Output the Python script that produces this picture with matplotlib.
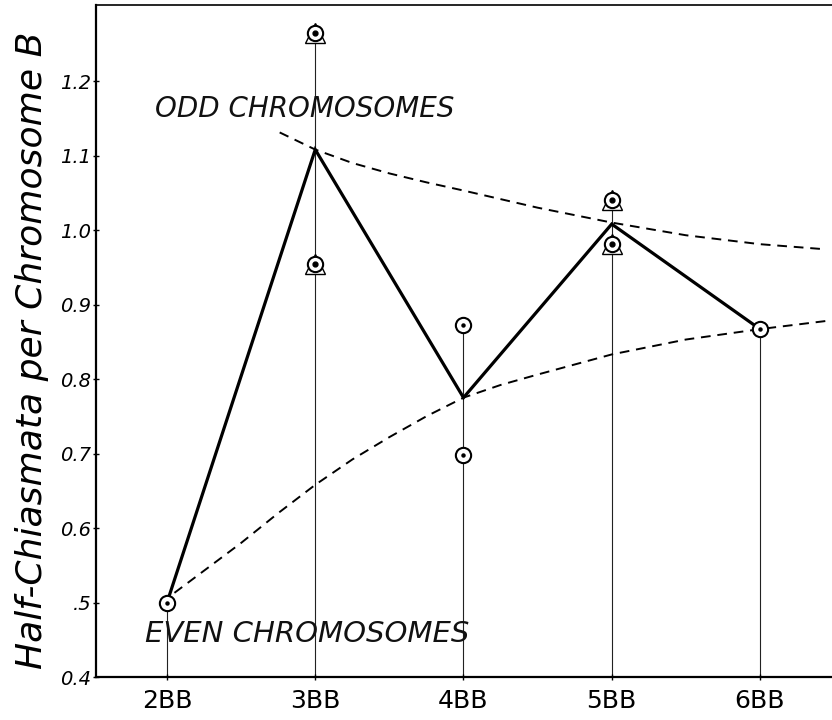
import matplotlib
matplotlib.use("Agg")
import matplotlib.pyplot as plt

# B chromosome classes
categories = ['2BB', '3BB', '4BB', '5BB', '6BB']
b_count = [2, 3, 4, 5, 6]
mean_vals = [0.500, 1.108, 0.775, 1.008, 0.867]
stem_tops = [0.500, 1.265, 0.872, 1.040, 0.867]

# individual observations
plain_x = [2, 4, 4, 6]
plain_y = [0.500, 0.872, 0.698, 0.867]
tri_x = [3, 3, 5, 5]
tri_y = [1.265, 0.954, 1.040, 0.981]

# dashed trend curves
odd_x = [2.76, 3.0, 3.25, 3.5, 3.75, 4.0, 4.5, 5.0, 5.5, 6.0, 6.45]
odd_y = [1.131, 1.108, 1.090, 1.076, 1.064, 1.053, 1.030, 1.010, 0.993, 0.981, 0.974]
even_x = [2.05, 2.5, 2.75, 3.0, 3.25, 3.5, 3.75, 4.0, 4.25, 4.5, 5.0, 5.5, 6.0, 6.45]
even_y = [0.513, 0.580, 0.620, 0.658, 0.692, 0.722, 0.750, 0.775, 0.792, 0.806, 0.833, 0.853, 0.867, 0.878]

ytick_vals = [0.4, 0.5, 0.6, 0.7, 0.8, 0.9, 1.0, 1.1, 1.2]
ytick_labels = ['0.4', '.5', '0.6', '0.7', '0.8', '0.9', '1.0', '1.1', '1.2']

fig = plt.figure(figsize=(8.32, 7.2), dpi=100)
ax = fig.add_axes([0.1154, 0.0597, 0.8846, 0.9333])

# vertical stems from the axis up to the highest observation
ax.vlines(b_count, 0.4, stem_tops, color='#222222', lw=0.8, zorder=1)

# trend curves
ax.plot(odd_x, odd_y, color='black', lw=1.4, dashes=(5, 3.5), zorder=2)
ax.plot(even_x, even_y, color='black', lw=1.4, dashes=(5, 3.5), zorder=2)

# mean line
ax.plot(b_count, mean_vals, color='black', lw=2.3, zorder=3, solid_joinstyle='miter')

# triangle-circle markers (triangle tips poke out behind the circle)
ax.plot(tri_x, tri_y, ls='none', marker='^', ms=15, mfc='white', mec='black', mew=1.0, zorder=4)
ax.plot(tri_x, tri_y, ls='none', marker='o', ms=11, mfc='white', mec='black', mew=1.5, zorder=5)
ax.plot(tri_x, tri_y, ls='none', marker='o', ms=3.5, color='black', zorder=6)

# plain circle markers
ax.plot(plain_x, plain_y, ls='none', marker='o', ms=11, mfc='white', mec='black', mew=1.5, zorder=5)
ax.plot(plain_x, plain_y, ls='none', marker='o', ms=2.2, color='black', zorder=6)

ax.text(1.919, 1.162, 'ODD CHROMOSOMES', fontsize=20, style='italic',
        ha='left', va='center', color='#111111')
ax.text(1.852, 0.458, 'EVEN CHROMOSOMES', fontsize=21, style='italic',
        ha='left', va='center', color='#111111')

ax.set_xlim(1.521, 6.486)
ax.set_ylim(0.4, 1.302)
ax.set_xticks(b_count)
ax.set_xticklabels(categories, fontsize=18)
ax.set_yticks(ytick_vals)
ax.set_yticklabels(ytick_labels, fontsize=14, style='italic')
ax.tick_params(axis='both', direction='inout', length=5, width=1, color='black')
ax.tick_params(axis='x', pad=6)
ax.tick_params(axis='y', pad=1)

ax.spines['right'].set_visible(False)
ax.spines['left'].set_linewidth(1.6)
ax.spines['bottom'].set_linewidth(1.6)
ax.spines['top'].set_linewidth(1.2)

fig.text(32 / 832, 1 - 350 / 720, 'Half-Chiasmata per Chromosome B', rotation=90,
         fontsize=26, style='italic', ha='center', va='center')

fig.savefig('out.png', dpi=100)
